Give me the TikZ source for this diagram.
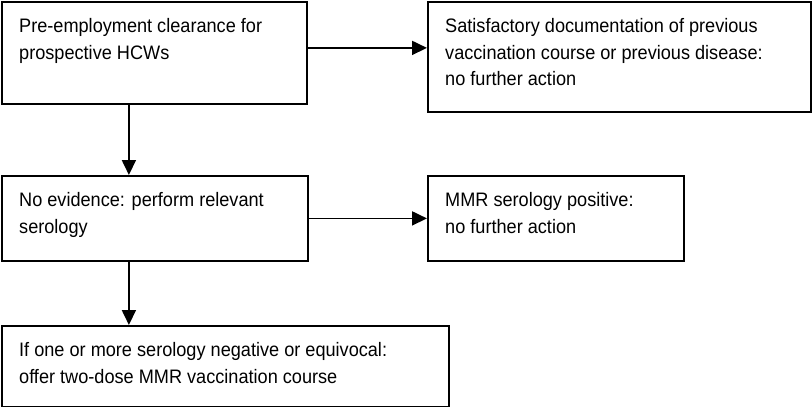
\documentclass[tikz,border=0pt]{standalone}
\usepackage{fontspec}
\setmainfont[FakeStretch=0.93]{Liberation Sans}
\usetikzlibrary{arrows.meta}

\tikzset{
	box/.style={draw, line width=1.8pt, rectangle, anchor=north west, inner sep=0pt},
	boxtext/.style={anchor=north west, align=left, inner sep=0pt,
		xshift=18pt, yshift=-17.6pt, font=\fontsize{19.5}{26.3}\selectfont},
	arr/.style={-{Triangle[length=15pt,width=14pt]}, line width=1.8pt}
}

\begin{document}
\begin{tikzpicture}[x=1pt,y=-1pt]
	\useasboundingbox (0,0) rectangle (812,407);
	
	% boxes
	\node[box, minimum width=305pt, minimum height=102pt,
	label={[boxtext]north west:{Pre-employment clearance for\\prospective HCWs}}] (pre) at (1,1) {};
	\node[box, minimum width=383pt, minimum height=110pt,
	label={[boxtext]north west:{Satisfactory documentation of previous\\vaccination course or previous disease:\\no further action}}] (sat) at (427,1) {};
	\node[box, minimum width=306pt, minimum height=85pt,
	label={[boxtext]north west:{No evidence: perform relevant\\serology}}] (serol) at (1,175) {};
	\node[box, minimum width=256pt, minimum height=85pt,
	label={[boxtext]north west:{MMR serology positive:\\no further action}}] (pos) at (427,175) {};
	\node[box, minimum width=447pt, minimum height=81pt,
	label={[boxtext]north west:{If one or more serology negative or equivocal:\\offer two-dose MMR vaccination course}}] (offer) at (1,325) {};
	
	% arrows
	\draw[arr] ([yshift=5pt]pre.east) -- ([yshift=5pt]pre.east -| sat.west);
	\draw[arr] ([xshift=-25.5pt]pre.south) -- ([xshift=-25.5pt]pre.south |- serol.north);
	\draw[arr] (serol.east) -- (pos.west);
	\draw[arr] ([xshift=-26pt]serol.south) -- ([xshift=-26pt]serol.south |- offer.north);
\end{tikzpicture}
\end{document}
